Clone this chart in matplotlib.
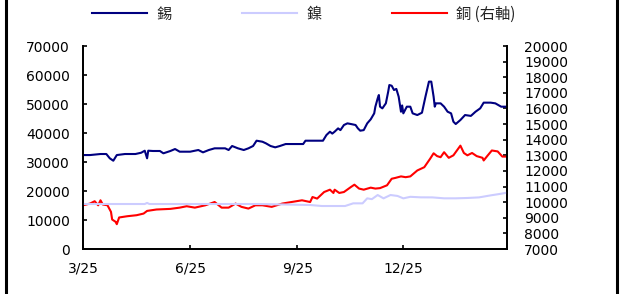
import matplotlib

matplotlib.use('Agg')
import matplotlib.pyplot as plt
import pandas as pd
from matplotlib.lines import Line2D

plt.rcParams['font.family'] = ['DejaVu Sans', 'Noto Sans CJK TC']

START = pd.Timestamp('2025-03-01')

# Tin (left axis): day offset from START, price
tin_days = [0, 6, 15, 20, 23, 26, 29, 36, 45, 50, 53, 55, 56, 60, 66, 69, 75, 79, 83, 92,
            99, 103, 108, 113, 122, 125, 128, 133, 138, 142, 146, 149, 154, 157, 161, 165,
            169, 174, 182, 189, 191, 199, 206, 209, 212, 214, 216, 219, 221, 224, 227, 230,
            234, 236, 238, 241, 244, 247, 250, 251, 253, 254, 255, 257, 260, 262, 263, 265,
            267, 269, 271, 273, 274, 275, 278, 281, 283, 287, 291, 294, 297, 299, 301, 302,
            303, 307, 310, 313, 316, 318, 320, 324, 328, 333, 337, 341, 344, 350, 354, 359, 364]
tin = [32400, 32400, 32760, 32760, 31270, 30450, 32400, 32760, 32760, 33210, 33900, 31270,
       33900, 33800, 33800, 33000, 33800, 34480, 33560, 33560, 34140, 33330, 34140, 34720,
       34720, 34140, 35520, 34720, 34140, 34720, 35520, 37350, 37000, 36450, 35520, 35060,
       35520, 36200, 36200, 36200, 37350, 37350, 37350, 39310, 40450, 39800, 40450, 41600,
       41000, 42760, 43330, 43100, 42760, 41600, 40800, 41000, 43330, 44720, 46780, 49080,
       51960, 53100, 49080, 48500, 50230, 54240, 56550, 56300, 54830, 55200, 52530, 47350,
       49500, 46780, 49080, 49080, 46780, 46200, 47000, 52530, 57720, 57720, 52530, 49080,
       50230, 50230, 49080, 47350, 46780, 43900, 43100, 44480, 46200, 45900, 47350, 48500,
       50470, 50470, 50230, 49080, 49080]

# Nickel (left axis)
nickel_days = [0, 53, 55, 57, 150, 180, 195, 205, 225, 232, 240, 244, 248, 253, 258, 264,
               270, 275, 281, 290, 300, 310, 320, 330, 340, 350, 358, 364]
nickel = [15520, 15520, 15900, 15520, 15520, 15300, 15170, 14830, 14830, 15750, 15750,
          17470, 17200, 18620, 17470, 18620, 18300, 17470, 18000, 17820, 17800, 17480,
          17480, 17600, 17800, 18500, 19000, 19430]

# Copper (right axis)
copper_days = [0, 6, 10, 13, 15, 17, 21, 24, 25, 28, 29, 31, 38, 46, 52, 55, 63, 75, 83, 89,
               96, 105, 113, 119, 125, 131, 136, 142, 148, 154, 162, 171, 179, 188, 195, 197,
               201, 207, 212, 215, 216, 220, 224, 230, 233, 237, 241, 247, 251, 255, 261, 265,
               268, 273, 277, 281, 287, 293, 298, 301, 304, 307, 310, 314, 318, 324, 327, 330,
               334, 338, 343, 344, 347, 351, 356, 360, 364]
copper = [9800, 9910, 10060, 9800, 10120, 9850, 9800, 9380, 8890, 8740, 8590, 9020, 9100,
          9165, 9270, 9440, 9530, 9570, 9650, 9740, 9650, 9800, 10010, 9650, 9650, 9910, 9700,
          9590, 9800, 9800, 9700, 9910, 10010, 10120, 10010, 10330, 10230, 10650, 10800,
          10590, 10800, 10590, 10650, 10970, 11120, 10870, 10800, 10930, 10870, 10900, 11080,
          11500, 11550, 11650, 11600, 11650, 12030, 12240, 12780, 13130, 12950, 12880, 13200,
          12840, 13000, 13620, 13150, 13000, 13150, 12950, 12840, 12670, 12950, 13310, 13250,
          12920, 12920]

tick_dates = ['2025-03-01', '2025-06-01', '2025-09-01', '2025-12-01']
tick_labels = ['3/25', '6/25', '9/25', '12/25']


def to_dates(days):
    return START + pd.to_timedelta(days, unit='D')


fig = plt.figure(figsize=(6.21, 2.94), dpi=100)
ax = fig.add_axes([0.1337, 0.153, 0.6827, 0.6905])
ax2 = ax.twinx()

l1, = ax.plot(to_dates(tin_days), tin, color='#000080', lw=1.5)
l2, = ax.plot(to_dates(nickel_days), nickel, color='#CCCCFF', lw=1.5)
l3, = ax2.plot(to_dates(copper_days), copper, color='#FF0000', lw=1.5)
ax.set_zorder(ax2.get_zorder() + 1)
ax.patch.set_visible(False)

ax.set_xlim(START, START + pd.Timedelta(days=364))
ax.set_ylim(0, 70000)
ax.set_yticks(range(0, 70001, 10000))
ax2.set_ylim(7000, 20000)
ax2.set_yticks(range(7000, 20001, 1000))
ax.set_xticks(pd.to_datetime(tick_dates))
ax.set_xticklabels(tick_labels)

for a in (ax, ax2):
    a.spines['top'].set_visible(False)
    for s in a.spines.values():
        s.set_linewidth(1.3)
ax.tick_params(axis='y', direction='in', length=3, width=1.2, pad=9.5, labelsize=10)
ax.tick_params(axis='x', direction='in', length=3, width=1.2, pad=9, labelsize=10)
ax2.tick_params(axis='y', direction='in', length=3, width=1.2, pad=12.5, labelsize=10)

fig.legend([l1, l2, l3], ['錫', '鎳', '銅 (右軸)'], loc='center',
           bbox_to_anchor=(0.489, 1 - 14 / 294), ncol=3, frameon=False,
           handlelength=3.6, handletextpad=0.6, columnspacing=4.6,
           prop={'family': ['Noto Sans CJK TC', 'DejaVu Sans'], 'size': 11},
           labelcolor='#222222')

# side frame lines
fig.add_artist(Line2D([6 / 621, 6 / 621], [0, 1], color='black', lw=2.2,
                      transform=fig.transFigure))
fig.add_artist(Line2D([617 / 621, 617 / 621], [0, 1], color='black', lw=2.2,
                      transform=fig.transFigure))

fig.savefig('out.png', dpi=100)
